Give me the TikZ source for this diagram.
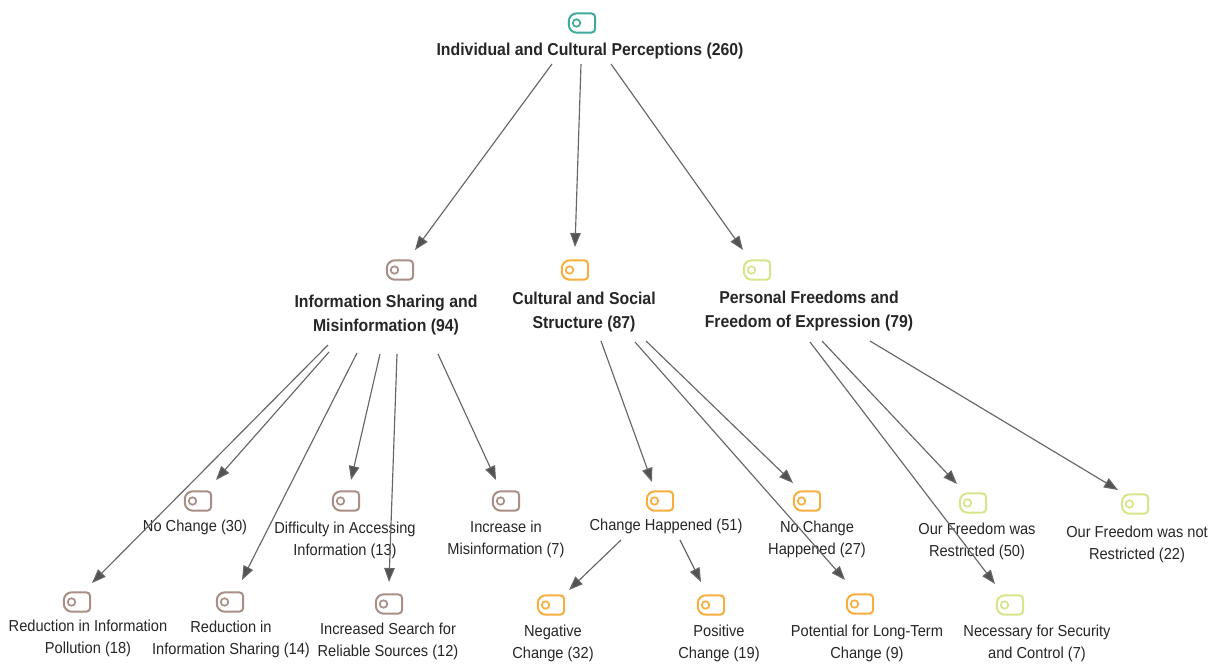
\documentclass[tikz,border=0pt]{standalone}
\usepackage{fontspec}
\setmainfont[FakeStretch=0.92]{Liberation Sans}
\usetikzlibrary{arrows.meta}
\definecolor{cteal}{HTML}{3FA99B}
\definecolor{cbrown}{HTML}{A98E85}
\definecolor{corange}{HTML}{F7AE3C}
\definecolor{clime}{HTML}{D6E58A}
\definecolor{ctext}{HTML}{262626}
\definecolor{cline}{HTML}{666666}
\tikzset{
  x=1pt,y=-1pt,
  iconbox/.style={minimum width=26pt,minimum height=19pt,inner sep=0pt},
  iconline/.style={draw=#1,line width=2pt},
  icondot/.style={draw=#1,line width=1.7pt,circle,minimum size=7.5pt,inner sep=0pt},
  label/.style={text=ctext,align=center,font=\fontsize{15.9}{22.5}\selectfont,inner sep=0pt,yshift=-1.5pt},
  headlabel/.style={text=ctext,align=center,font=\fontsize{17.2}{24}\selectfont\bfseries,inner sep=0pt,yshift=-2pt},
  link/.style={draw=cline,line width=1.15pt,-{Triangle[length=14pt,width=10.5pt,fill=cline!80!black]}},
}
\newcommand{\iconat}[3]{%
  \node[iconbox] (#1) at (#2) {};
  \draw[iconline=#3,rounded corners=4pt] (#1.north) -- (#1.north east) -- (#1.south east) -- (#1.south) [rounded corners=8pt] -- (#1.south west) -- (#1.north west) -- (#1.north);
  \node[icondot=#3,xshift=-5.5pt] (#1dot) at (#1.center) {};
}
\begin{document}
\begin{tikzpicture}
\useasboundingbox (0,0) rectangle (1218,664);
% icons
\iconat{iroot}{582,23}{cteal}
\iconat{iinfo}{400,270}{cbrown}
\iconat{icult}{575,270}{corange}
\iconat{ipers}{757,270}{clime}
\iconat{inoch}{198,501}{cbrown}
\iconat{idiff}{346,501}{cbrown}
\iconat{iincr}{506,501}{cbrown}
\iconat{ichg}{660,501}{corange}
\iconat{inochg}{807,501}{corange}
\iconat{irest}{973,503}{clime}
\iconat{inotr}{1135,504}{clime}
\iconat{ipoll}{77,602}{cbrown}
\iconat{ishar}{230,602}{cbrown}
\iconat{isrch}{389,604}{cbrown}
\iconat{ineg}{551,605}{corange}
\iconat{ipos}{711,605}{corange}
\iconat{ipot}{860,604}{corange}
\iconat{isec}{1010,605}{clime}
% labels
\node[headlabel] (lroot) at (590,49) {Individual and Cultural Perceptions (260)};
\node[headlabel] (linfo) at (386,313) {Information Sharing and\\Misinformation (94)};
\node[headlabel] (lcult) at (584,310) {Cultural and Social\\Structure (87)};
\node[headlabel] (lpers) at (809,309) {Personal Freedoms and\\Freedom of Expression (79)};
\node[label] (lnoch) at (195,526) {No Change (30)};
\node[label] (ldiff) at (345,539) {Difficulty in Accessing\\Information (13)};
\node[label] (lincr) at (506,538) {Increase in\\Misinformation (7)};
\node[label] (lchg) at (666,525) {Change Happened (51)};
\node[label] (lnochg) at (817,538) {No Change\\Happened (27)};
\node[label] (lrest) at (977,540) {Our Freedom was\\Restricted (50)};
\node[label] (lnotr) at (1137,543) {Our Freedom was not\\Restricted (22)};
\node[label] (lpoll) at (88,637) {Reduction in Information\\Pollution (18)};
\node[label] (lshar) at (231,638) {Reduction in\\Information Sharing (14)};
\node[label] (lsrch) at (388,640) {Increased Search for\\Reliable Sources (12)};
\node[label] (lneg) at (553,642) {Negative\\Change (32)};
\node[label] (lpos) at (719,642) {Positive\\Change (19)};
\node[label] (lpot) at (867,642) {Potential for Long-Term\\Change (9)};
\node[label] (lsec) at (1037,642) {Necessary for Security\\and Control (7)};
% connector ends
\coordinate (r1) at (552,64);   \coordinate (r1e) at (415,250);
\coordinate (r2) at (581,64);   \coordinate (r2e) at (575,247);
\coordinate (r3) at (611,64);   \coordinate (r3e) at (743,250);
\coordinate (a1) at (328,345);  \coordinate (a1e) at (92,583);
\coordinate (a2) at (329,352);  \coordinate (a2e) at (216,480);
\coordinate (a3) at (357,353);  \coordinate (a3e) at (242,580);
\coordinate (a4) at (380,354);  \coordinate (a4e) at (351,480);
\coordinate (a5) at (397,354);  \coordinate (a5e) at (389,582);
\coordinate (a6) at (438,354);  \coordinate (a6e) at (496,480);
\coordinate (b1) at (601,341);  \coordinate (b1e) at (652,482);
\coordinate (b2) at (635,342);  \coordinate (b2e) at (845,580);
\coordinate (b3) at (646,341);  \coordinate (b3e) at (793,483);
\coordinate (c1) at (810,342);  \coordinate (c1e) at (995,584);
\coordinate (c2) at (822,341);  \coordinate (c2e) at (957,484);
\coordinate (c3) at (870,341);  \coordinate (c3e) at (1118,490);
\coordinate (d1) at (621,540);  \coordinate (d1e) at (569,590);
\coordinate (d2) at (680,540);  \coordinate (d2e) at (701,582);
\foreach \s/\e in {r1/r1e,r2/r2e,r3/r3e,a1/a1e,a2/a2e,a3/a3e,a4/a4e,a5/a5e,a6/a6e,b1/b1e,b2/b2e,b3/b3e,c1/c1e,c2/c2e,c3/c3e,d1/d1e,d2/d2e}
  \draw[link] (\s) -- (\e);
\end{tikzpicture}
\end{document}
